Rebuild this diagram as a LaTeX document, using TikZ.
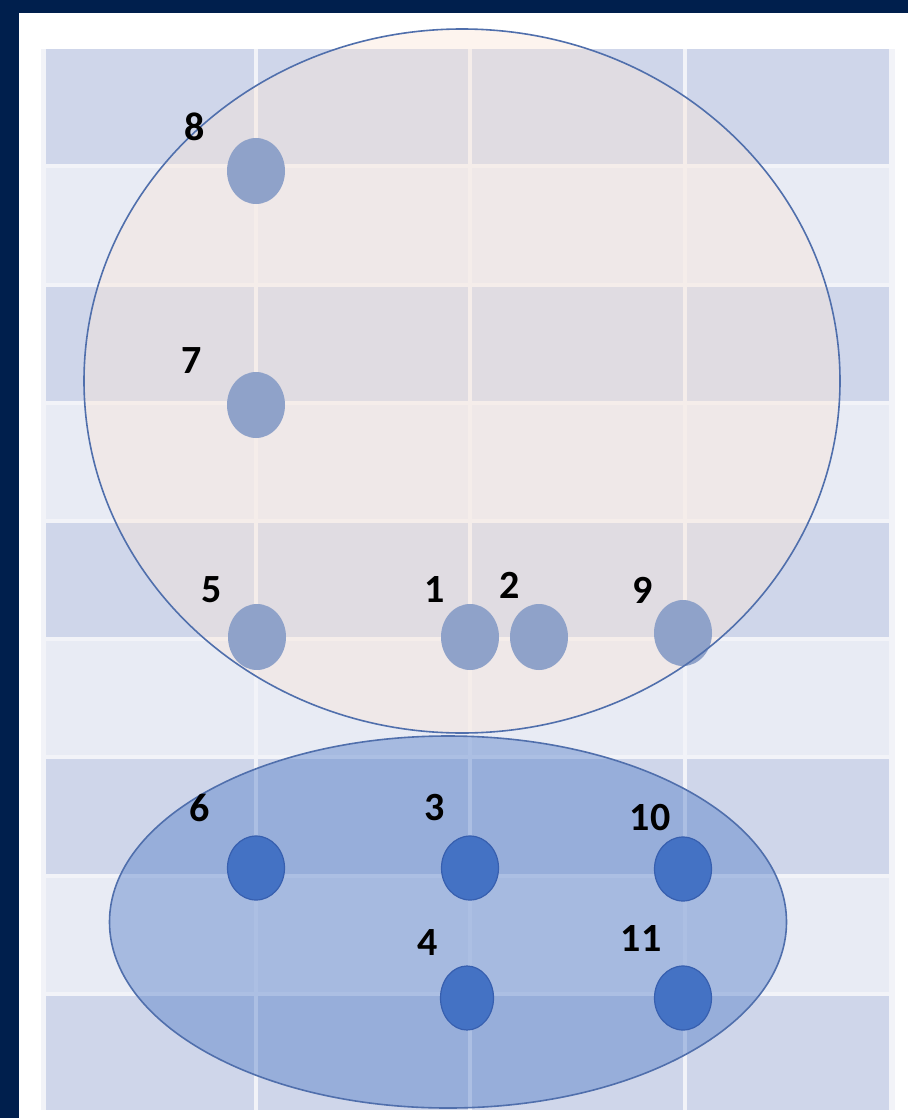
\documentclass[tikz,border=0pt]{standalone}
\usepackage{fontspec}
\setmainfont{Carlito}
\usetikzlibrary{shapes.geometric}
\definecolor{navy}{RGB}{0,31,77}
\definecolor{banddark}{RGB}{207,214,234}
\definecolor{bandlight}{RGB}{232,235,244}
\definecolor{edgestrip}{RGB}{242,243,248}
\definecolor{peach}{RGB}{251,229,214}
\definecolor{accent}{RGB}{68,114,196}
\definecolor{setline}{RGB}{80,111,172}
\definecolor{paledot}{RGB}{143,162,201}
\definecolor{dotline}{RGB}{55,95,175}
\tikzset{
  setA/.style={ellipse, inner sep=0pt, fill=peach, fill opacity=0.4, minimum width=756pt, minimum height=704pt},
  setB/.style={ellipse, inner sep=0pt, fill=accent, fill opacity=0.4, minimum width=677pt, minimum height=372pt},
  setline/.style={ellipse, inner sep=0pt, draw=setline, line width=1.6pt},
  paledot/.style={ellipse, inner sep=0pt, fill=paledot, minimum width=58pt, minimum height=66pt},
  bluedot/.style={ellipse, inner sep=0pt, fill=accent, draw=dotline, line width=1.2pt, minimum width=57pt, minimum height=64pt},
  lbl/.style={inner sep=0pt, font=\fontsize{40}{40}\selectfont\bfseries, text=black}
}
\begin{document}
\begin{tikzpicture}[x=1pt,y=-1pt]
\useasboundingbox (0,0) rectangle (908,1118);
\fill[white] (0,0) rectangle (908,1118);
\fill[navy] (0,0) rectangle (908,13);
\fill[navy] (0,0) rectangle (19,1118);
% grid
\fill[edgestrip] (41,49) rectangle (895,1110);
\foreach \k in {0,...,8}{
  \pgfmathsetmacro{\ya}{ifthenelse(\k==0,49,166.3+118.2*(\k-1)+2)}
  \pgfmathsetmacro{\yb}{ifthenelse(\k==8,1110,166.3+118.2*\k-2)}
  \pgfmathtruncatemacro{\parity}{mod(\k,2)}
  \ifnum\parity=0 \def\bc{banddark}\else\def\bc{bandlight}\fi
  \foreach \xa/\xb in {46/254, 258/468, 472/683, 687/889}{
    \fill[\bc] (\xa,\ya) rectangle (\xb,\yb);
  }
}
% sets
\node[setA] (A) at (462,381) {};
\node[setB] (B) at (448,922) {};
% top dots
\node[paledot] (d8) at (256,171) {};
\node[paledot] (d7) at (256,405) {};
\node[paledot] (d5) at (257,637) {};
\node[paledot] (d1) at (470,637) {};
\node[paledot] (d2) at (539,637) {};
\node[paledot] (d9) at (683,633) {};
% outlines
\node[setline, minimum width=756pt, minimum height=704pt] (Aline) at (A) {};
\node[setline, minimum width=677pt, minimum height=372pt] (Bline) at (B) {};
% bottom dots
\node[bluedot] (d6) at (256,868) {};
\node[bluedot] (d3) at (470,868) {};
\node[bluedot] (d10) at (683,869) {};
\node[bluedot, minimum width=53pt] (d4) at (467,998) {};
\node[bluedot] (d11) at (683,998) {};
% labels
\node[lbl] (l8) at (195,127) {8};
\node[lbl] (l7) at (192,361) {7};
\node[lbl] (l5) at (212,590) {5};
\node[lbl] (l1) at (435,590) {1};
\node[lbl] (l2) at (510,585) {2};
\node[lbl] (l9) at (643,590) {9};
\node[lbl] (l6) at (200,808) {6};
\node[lbl] (l3) at (435,808) {3};
\node[lbl] (l10) at (650,818) {10};
\node[lbl] (l4) at (428,943) {4};
\node[lbl] (l11) at (641,938) {11};
\end{tikzpicture}
\end{document}
